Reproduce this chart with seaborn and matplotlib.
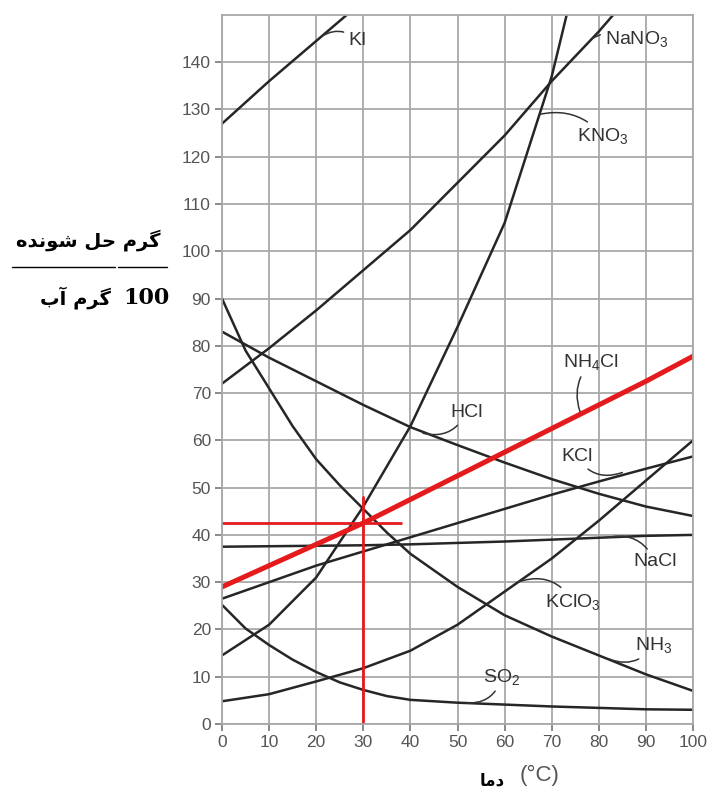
import matplotlib
matplotlib.use('Agg')
import matplotlib.pyplot as plt
import seaborn as sns
import pandas as pd
from matplotlib.lines import Line2D

# temperatures (°C)
temps = [0, 10, 20, 30, 40, 50, 60, 70, 80, 90, 100]
temps_fine = [0, 5, 10, 15, 20, 25, 30, 35, 40, 50, 60, 70, 80, 90, 100]

# solubility values (g solute / 100 g water)
ki = [127, 136, 144.5, 153]
nano3 = [72, 79.5, 87.5, 96, 104.5, 114.5, 124.5, 136, 146.5, 158]
kno3 = [14.5, 21, 31, 46, 63, 84, 106, 137, 178]
hcl = [83, 77.5, 72.5, 67.5, 62.8, 59, 55.3, 51.8, 48.7, 46, 44]
nh4cl = [29, 33.5, 38, 42.5, 47.5, 52.5, 57.5, 62.5, 67.5, 72.5, 77.8]
kcl = [26.5, 30, 33.5, 36.5, 39.5, 42.5, 45.5, 48.5, 51.3, 54, 56.6]
nacl = [37.5, 37.6, 37.7, 37.8, 38.0, 38.3, 38.6, 39.0, 39.4, 39.8, 40.0]
kclo3 = [4.8, 6.3, 9, 11.8, 15.5, 21, 28, 35, 43, 51.5, 60]
nh3 = [90, 79, 71, 63, 56, 50.5, 45.5, 40.5, 36, 29, 23, 18.5, 14.5, 10.5, 7]
so2 = [25.2, 20.2, 16.7, 13.6, 11, 8.8, 7.2, 5.9, 5.1, 4.5, 4.1, 3.7, 3.4, 3.1, 3]

black_curves = [
    ('KI', temps, ki), ('NaNO3', temps, nano3), ('KNO3', temps, kno3),
    ('HCl', temps, hcl), ('KCl', temps, kcl), ('NaCl', temps, nacl),
    ('KClO3', temps, kclo3), ('NH3', temps_fine, nh3), ('SO2', temps_fine, so2),
]

# red reading lines at 30 °C
read_temp = 30
read_value = 42.5

# curve labels: text, point on curve, label position, leader bend
labels = [
    ('KI', (21.2, 145.5), (26.8, 144.5), 0.4),
    ('NaNO$\\mathregular{_3}$', (78.6, 145), (81.3, 144.9), 0.3),
    ('KNO$\\mathregular{_3}$', (67.6, 129), (75.4, 124.4), 0.3),
    ('NH$\\mathregular{_4}$Cl', (76, 66.1), (72.4, 76.5), 0.3),
    ('HCl', (42.7, 61.5), (48.4, 65.9), -0.4),
    ('KCl', (85, 53.2), (72, 56.6), 0.4),
    ('NaCl', (82, 39.5), (87.3, 34.3), 0.4),
    ('KClO$\\mathregular{_3}$', (62.8, 30.0), (68.6, 25.9), 0.4),
    ('NH$\\mathregular{_3}$', (82, 13.8), (87.7, 16.7), -0.4),
    ('SO$\\mathregular{_2}$', (52, 4.4), (55.4, 10), -0.4),
]

# Persian letter forms: isolated, final, initial, medial
FORMS = {
    'گ': ('\ufb92', '\ufb93', '\ufb94', '\ufb95'),
    'ر': ('\ufead', '\ufeae', '\ufead', '\ufeae'),
    'م': ('\ufee1', '\ufee2', '\ufee3', '\ufee4'),
    'ح': ('\ufea1', '\ufea2', '\ufea3', '\ufea4'),
    'ل': ('\ufedd', '\ufede', '\ufedf', '\ufee0'),
    'ش': ('\ufeb5', '\ufeb6', '\ufeb7', '\ufeb8'),
    'و': ('\ufeed', '\ufeee', '\ufeed', '\ufeee'),
    'ن': ('\ufee5', '\ufee6', '\ufee7', '\ufee8'),
    'د': ('\ufea9', '\ufeaa', '\ufea9', '\ufeaa'),
    'ه': ('\ufee9', '\ufeea', '\ufeeb', '\ufeec'),
    'آ': ('\ufe81', '\ufe82', '\ufe81', '\ufe82'),
    'ب': ('\ufe8f', '\ufe90', '\ufe91', '\ufe92'),
    'ا': ('\ufe8d', '\ufe8e', '\ufe8d', '\ufe8e'),
}
RIGHT_ONLY = set('اآدذرزژو')


def shape_fa(text):
    # matplotlib does no Arabic shaping, so pick the forms and reverse by hand
    out = []
    for i, ch in enumerate(text):
        if ch not in FORMS:
            out.append(ch)
            continue
        prev = text[i - 1] if i > 0 else ' '
        nxt = text[i + 1] if i + 1 < len(text) else ' '
        join_prev = prev in FORMS and prev not in RIGHT_ONLY
        join_next = nxt in FORMS and ch not in RIGHT_ONLY
        iso, fin, ini, med = FORMS[ch]
        if join_prev and join_next:
            out.append(med)
        elif join_prev:
            out.append(fin)
        elif join_next:
            out.append(ini)
        else:
            out.append(iso)
    return ''.join(reversed(out))


sns.set_style('white')
plt.rcParams['font.family'] = ['Liberation Sans', 'DejaVu Sans']

fig = plt.figure(figsize=(7.18, 7.96), dpi=100)
ax = fig.add_axes([0.3092, 0.0905, 0.656, 0.8907])

grid_col = '#a8a8a8'
line_col = '#262626'
red = '#e41a1c'

for name, xs, vals in black_curves:
    df = pd.DataFrame({'temp': xs[:len(vals)], 'sol': vals})
    sns.lineplot(data=df, x='temp', y='sol', ax=ax, color=line_col, lw=1.8,
                 sort=False, estimator=None)

# red reading lines
sns.lineplot(x=[0, 38], y=[read_value, read_value], ax=ax, color=red, lw=2.0,
             estimator=None, sort=False)
sns.lineplot(x=[read_temp, read_temp], y=[0, 48], ax=ax, color=red, lw=2.0,
             estimator=None, sort=False)
sns.lineplot(x=temps, y=nh4cl, ax=ax, color=red, lw=3.6, estimator=None)

for text, tip, pos, rad in labels:
    ax.annotate(text, xy=tip, xytext=pos, fontsize=14, color='#333333',
                ha='left', va='center',
                arrowprops=dict(arrowstyle='-', color='#333333', lw=1.1,
                                connectionstyle='arc3,rad=%s' % rad,
                                shrinkA=1, shrinkB=0))

ax.set_xlim(0, 100)
ax.set_ylim(0, 150)
ax.set_xticks(range(0, 101, 10))
ax.set_yticks(range(0, 141, 10))
ax.grid(True, color=grid_col, lw=1.3)
ax.set_axisbelow(True)
for sp in ax.spines.values():
    sp.set_color(grid_col)
    sp.set_linewidth(1.3)
ax.tick_params(axis='both', length=5, width=1.2, color='#777777',
               labelcolor='#555555', labelsize=12.5, pad=3, direction='out',
               left=True, bottom=True)
ax.set_xlabel('')
ax.set_ylabel('')

# y label as a fraction in Persian
fig.text(0.1226, 0.6985, shape_fa('گرم حل شونده'), ha='center', va='center',
         fontsize=14, fontweight='bold', family='DejaVu Sans', color='black')
fig.add_artist(Line2D([0.0167, 0.160], [0.6646, 0.6646], color='black', lw=1.0))
fig.add_artist(Line2D([0.164, 0.2326], [0.6646, 0.6646], color='black', lw=1.0))
fig.text(0.1045, 0.6256, shape_fa('گرم آب'), ha='center', va='center',
         fontsize=14, fontweight='bold', family='DejaVu Sans', color='black')
fig.text(0.2033, 0.6256, '100', ha='center', va='center',
         fontsize=16, fontweight='bold', family='DejaVu Serif', color='black')

# x label
fig.text(0.752, 0.0264, '(°C)', ha='center', va='center', fontsize=16, color='#555555')
fig.text(0.685, 0.0201, shape_fa('دما'), ha='center', va='center',
         fontsize=12, fontweight='bold', family='DejaVu Sans', color='black')

fig.savefig('out.png', dpi=100)
